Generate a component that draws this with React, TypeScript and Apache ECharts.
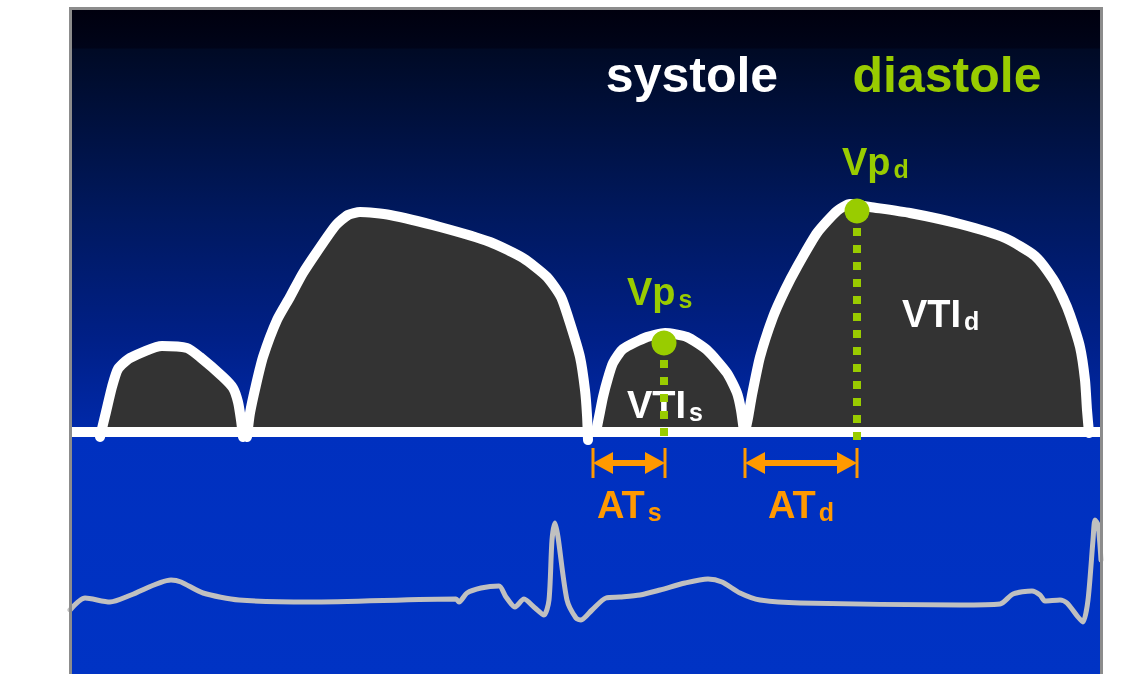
import React, { useEffect, useRef } from "react";
import * as echarts from "echarts";

// Doppler flow envelopes: [time, velocity] (velocity 0 = baseline)
const hump1 = [
  [30, -5], [36, 20], [42, 45], [48, 63], [60, 74], [92, 86], [117, 84],
  [130, 75], [153, 55], [163, 44], [168, 30], [171, 12], [173, -5],
];
const hump2 = [
  [177, -5], [180, 19], [186, 47], [193, 75], [207, 112], [220, 135], [233, 159],
  [253, 189], [266, 207], [278, 217], [290, 220], [320, 217], [370, 205], [420, 190],
  [453, 174], [477, 155], [491, 135], [500, 109], [510, 75], [515, 42], [517, 17], [518, -8],
];
const hump3 = [
  [526, 0], [530, 20], [533, 35], [538, 54], [543, 69], [553, 83], [577, 95], [595, 99],
  [617, 95], [637, 82], [657, 59], [667, 39], [671, 22], [674, 0],
];
const hump4 = [
  [675, 0], [678, 14], [682, 37], [690, 75], [703, 115], [715, 142], [727, 165],
  [747, 199], [767, 221], [780, 228], [800, 225], [840, 219], [890, 208], [935, 194],
  [965, 176], [983, 153], [993, 134], [1000, 117], [1010, 85], [1015, 52], [1017, 22], [1019, -1],
];

// ECG trace
const ecg = [
  [0, -178], [15, -166], [40, -170], [61, -163], [101, -148], [111, -150], [133, -161],
  [169, -168], [240, -170], [386, -167], [389, -170], [397, -161], [411, -156], [429, -154],
  [436, -165], [445, -175], [454, -167], [465, -176], [474, -183], [479, -168], [482, -108],
  [485, -91], [488, -105], [497, -168], [506, -186], [511, -188], [522, -178], [536, -166],
  [550, -165], [570, -163], [590, -158], [615, -151], [638, -147], [652, -150], [670, -161],
  [690, -168], [730, -171], [890, -173], [930, -172], [943, -162], [962, -159], [970, -163],
  [975, -169], [990, -168], [997, -171], [1008, -185], [1013, -190], [1018, -168], [1023, -108],
  [1025, -88], [1028, -93], [1031, -128],
];

// Peak velocities (Vps, Vpd)
const peaks = [[594, 89], [787, 221]];
const vpsDrop = [[594, 89], [594, -5]];
const vpdDrop = [[787, 221], [787, -8]];

// Acceleration times: start / end of each interval
const atSys = [523, 595];
const atDia = [675, 787];
const atLevel = -31;
const tickRange = [-16, -46];
const arrowInset = 10;

const baseline = [[0, 0], [1031, 0]];

const GREEN = "#99cc00";
const ORANGE = "#ff9900";
const FONT = "Liberation Sans";

function subLabel(x: number, y: number, main: string, sub: string, color: string) {
  return {
    type: "text",
    z: 100,
    x,
    y,
    style: {
      text: `{m|${main}}{s|${sub}}`,
      align: "left",
      verticalAlign: "bottom",
      fontFamily: FONT,
      rich: {
        m: { fontSize: 38, fontWeight: "bold", fontFamily: FONT, fill: color, verticalAlign: "bottom" },
        s: {
          fontSize: 25,
          fontWeight: "bold",
          fontFamily: FONT,
          fill: color,
          verticalAlign: "bottom",
          padding: [0, 0, 0, 3],
        },
      },
    },
  };
}

function tick(t: number) {
  return {
    type: "line",
    data: [[t, tickRange[0]], [t, tickRange[1]]],
    symbol: "none",
    z: 20,
    lineStyle: { color: ORANGE, width: 3 },
  };
}

export default function App() {
  const ref = useRef<HTMLDivElement>(null);
  useEffect(() => {
    const chart = echarts.init(ref.current!, null, { renderer: "svg" });
    const humpSeries = [hump1, hump2, hump3, hump4].map((h) => ({
      type: "line",
      data: h,
      smooth: 0.2,
      symbol: "none",
      z: 3,
      lineStyle: { color: "#ffffff", width: 10, cap: "round", join: "round" },
      areaStyle: { color: "#333333", opacity: 1, origin: "auto" },
    }));
    const option = {
      animation: false,
      grid: { left: 70, right: 39, top: 8, bottom: 0 },
      xAxis: { type: "value", min: 0, max: 1031, show: false },
      yAxis: { type: "value", min: -242, max: 424, show: false },
      graphic: [
        {
          type: "rect",
          z: -10,
          shape: { x: 71, y: 9, width: 1030, height: 665 },
          style: {
            fill: new echarts.graphic.LinearGradient(0, 0, 0, 1, [
              { offset: 0, color: "#00000e" },
              { offset: 0.058, color: "#000419" },
              { offset: 0.061, color: "#000a25" },
              { offset: 0.3, color: "#00185c" },
              { offset: 0.5, color: "#002088" },
              { offset: 0.634, color: "#0029aa" },
              { offset: 0.64, color: "#0030bf" },
              { offset: 1, color: "#0033c4" },
            ]),
          },
        },
        {
          type: "rect",
          z: 50,
          shape: { x: 70.5, y: 8.5, width: 1031, height: 670 },
          style: { fill: "none", stroke: "#8c8c8c", lineWidth: 3 },
        },
        {
          type: "text",
          z: 100,
          x: 692,
          y: 100,
          style: {
            text: "systole",
            fontSize: 50,
            fontWeight: "bold",
            fontFamily: FONT,
            fill: "#ffffff",
            align: "center",
            verticalAlign: "bottom",
          },
        },
        {
          type: "text",
          z: 100,
          x: 947,
          y: 100,
          style: {
            text: "diastole",
            fontSize: 50,
            fontWeight: "bold",
            fontFamily: FONT,
            fill: GREEN,
            align: "center",
            verticalAlign: "bottom",
          },
        },
        subLabel(627, 311, "Vp", "s", GREEN),
        subLabel(842, 181, "Vp", "d", GREEN),
        subLabel(627, 424, "VTI", "s", "#ffffff"),
        subLabel(902, 333, "VTI", "d", "#ffffff"),
        subLabel(597, 524, "AT", "s", ORANGE),
        subLabel(768, 524, "AT", "d", ORANGE),
      ],
      series: [
        ...humpSeries,
        {
          type: "line",
          data: baseline,
          symbol: "none",
          z: 4,
          lineStyle: { color: "#ffffff", width: 10 },
        },
        {
          type: "line",
          data: ecg,
          smooth: 0.25,
          symbol: "none",
          z: 3,
          lineStyle: { color: "#c0c0c0", width: 5, join: "round", cap: "round" },
        },
        ...[vpsDrop, vpdDrop].map((d) => ({
          type: "line",
          data: d,
          symbol: "none",
          z: 110,
          lineStyle: { color: GREEN, width: 8, type: [8, 9], cap: "butt" },
        })),
        {
          type: "scatter",
          data: peaks,
          symbol: "circle",
          symbolSize: 25,
          z: 111,
          itemStyle: { color: GREEN, opacity: 1 },
        },
        ...[atSys[0], atSys[1], atDia[0], atDia[1]].map(tick),
        {
          type: "line",
          data: [],
          z: 20,
          markLine: {
            silent: true,
            symbol: ["triangle", "triangle"],
            symbolSize: [22, 20],
            label: { show: false },
            lineStyle: { color: ORANGE, width: 6, type: "solid", opacity: 1 },
            emphasis: { disabled: true },
            data: [
              [{ coord: [atSys[0] + arrowInset, atLevel] }, { coord: [atSys[1] - arrowInset, atLevel] }],
              [{ coord: [atDia[0] + arrowInset, atLevel] }, { coord: [atDia[1] - arrowInset, atLevel] }],
            ],
          },
        },
      ],
    };
    chart.setOption(option as any);
    return () => chart.dispose();
  }, []);
  return (
    <div
      ref={ref}
      style={{ position: "fixed", left: 0, top: 0, width: 1140, height: 674 }}
    />
  );
}
